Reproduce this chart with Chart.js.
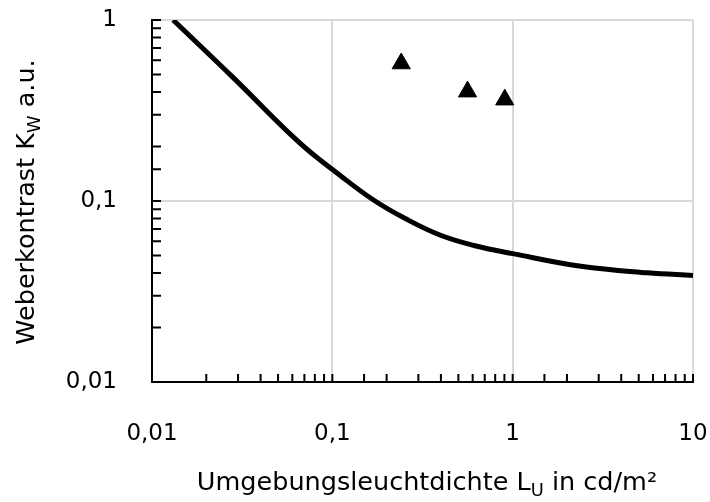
<!DOCTYPE html>
<html>
<head>
<meta charset="utf-8">
<script src="https://cdn.jsdelivr.net/npm/chart.js@4"></script>
<style>
  html, body { margin: 0; padding: 0; background: #fff; }
  #wrap { width: 710px; height: 502px; }
</style>
</head>
<body>
<div id="wrap"><canvas id="myChart" width="710" height="502"></canvas></div>
<script>
// Kurve (Schwellenkontrast)
const curveX = [0.0131, 0.0283, 0.0664, 0.111, 0.17, 0.26, 0.398, 0.61, 1.0, 2.39, 5.6, 10];
const curveY = [1.0, 0.479, 0.208, 0.138, 0.101, 0.079, 0.0647, 0.0568, 0.0512, 0.0436, 0.0401, 0.0388];

// Messpunkte (Dreiecke)
const pointsX = [0.241, 0.562, 0.904];
const pointsY = [0.575, 0.402, 0.363];

// Achsenbeschriftung
const xTickValues = [0.01, 0.1, 1, 10];
const xTickLabels = ['0,01', '0,1', '1', '10'];
const yTickValues = [0.01, 0.1, 1];
const yTickLabels = ['0,01', '0,1', '1'];

const FONT = '"DejaVu Sans", sans-serif';

function labelFor(value, values, labels) {
  for (let i = 0; i < values.length; i++) {
    if (Math.abs(Math.log10(value / values[i])) < 1e-6) return labels[i];
  }
  return '';
}
function isDecade(value) {
  const l = Math.log10(value);
  return Math.abs(l - Math.round(l)) < 1e-6;
}

// Titel mit Index zeichnen
function drawParts(ctx, parts, size) {
  let total = 0;
  parts.forEach(p => {
    ctx.font = (p.sub ? size * 0.7 : size) + 'px ' + FONT;
    p.w = ctx.measureText(p.t).width;
    total += p.w;
  });
  let x = -total / 2;
  parts.forEach(p => {
    ctx.font = (p.sub ? size * 0.7 : size) + 'px ' + FONT;
    ctx.fillText(p.t, x, p.sub ? size * 0.22 : 0);
    x += p.w;
  });
}

const innerTicks = {
  id: 'innerTicks',
  afterDraw(chart) {
    const ctx = chart.ctx;
    const area = chart.chartArea;
    const xs = chart.scales.x, ys = chart.scales.y;
    ctx.save();
    ctx.strokeStyle = '#000';
    ctx.lineWidth = 2;
    ctx.beginPath();
    xs.ticks.forEach(t => {
      const px = xs.getPixelForValue(t.value);
      ctx.moveTo(px, area.bottom);
      ctx.lineTo(px, area.bottom - 8);
    });
    ys.ticks.forEach(t => {
      const py = ys.getPixelForValue(t.value);
      ctx.moveTo(area.left, py);
      ctx.lineTo(area.left + 9, py);
    });
    ctx.stroke();

    ctx.fillStyle = '#000';
    ctx.textAlign = 'left';
    ctx.textBaseline = 'alphabetic';
    // x-Titel
    ctx.save();
    ctx.translate(427, 490);
    drawParts(ctx, [{t: 'Umgebungsleuchtdichte L'}, {t: 'U', sub: true}, {t: ' in cd/m²'}], 25.5);
    ctx.restore();
    // y-Titel
    ctx.save();
    ctx.translate(34, 202);
    ctx.rotate(-Math.PI / 2);
    drawParts(ctx, [{t: 'Weberkontrast K'}, {t: 'W', sub: true}, {t: ' a.u.'}], 25.5);
    ctx.restore();
    ctx.restore();
  }
};

const config = {
  type: 'line',
  data: {
    datasets: [{
      label: 'Kurve',
      data: curveX.map((x, i) => ({x: x, y: curveY[i]})),
      borderColor: '#000',
      borderWidth: 5,
      pointRadius: 0,
      tension: 0.4,
      fill: false
    }, {
      label: 'Messwerte',
      data: pointsX.map((x, i) => ({x: x, y: pointsY[i]})),
      showLine: false,
      pointStyle: 'triangle',
      pointRadius: 10.5,
      pointBackgroundColor: '#000',
      pointBorderColor: '#000',
      pointBorderWidth: 1
    }]
  },
  options: {
    responsive: false,
    animation: false,
    layout: { padding: { top: 20, right: 17, left: 0, bottom: 0 } },
    plugins: { legend: { display: false }, tooltip: { enabled: false } },
    scales: {
      x: {
        type: 'logarithmic',
        min: 0.01,
        max: 10,
        afterFit(scale) {
          scale.height = 120;
          scale.paddingLeft = 0; scale.paddingRight = 0;
          scale.paddingTop = 0; scale.paddingBottom = 0;
        },
        border: { color: '#000', width: 2 },
        grid: {
          drawTicks: false,
          lineWidth: 2,
          color: ctx => (ctx.tick && isDecade(ctx.tick.value)) ? '#d9d9d9' : 'rgba(0,0,0,0)'
        },
        ticks: {
          autoSkip: false,
          maxRotation: 0,
          padding: 38,
          color: '#000',
          font: { family: FONT, size: 23 },
          callback: v => labelFor(v, xTickValues, xTickLabels)
        }
      },
      y: {
        type: 'logarithmic',
        min: 0.01,
        max: 1,
        afterFit(scale) {
          scale.width = 152;
          scale.paddingLeft = 0; scale.paddingRight = 0;
          scale.paddingTop = 0; scale.paddingBottom = 0;
        },
        border: { color: '#000', width: 2 },
        grid: {
          drawTicks: false,
          lineWidth: 2,
          color: ctx => (ctx.tick && isDecade(ctx.tick.value)) ? '#d9d9d9' : 'rgba(0,0,0,0)'
        },
        ticks: {
          autoSkip: false,
          padding: 35,
          color: '#000',
          font: { family: FONT, size: 23 },
          callback: v => labelFor(v, yTickValues, yTickLabels)
        }
      }
    }
  },
  plugins: [innerTicks]
};

var myChart = new Chart(document.getElementById('myChart'), config);
</script>
</body>
</html>
